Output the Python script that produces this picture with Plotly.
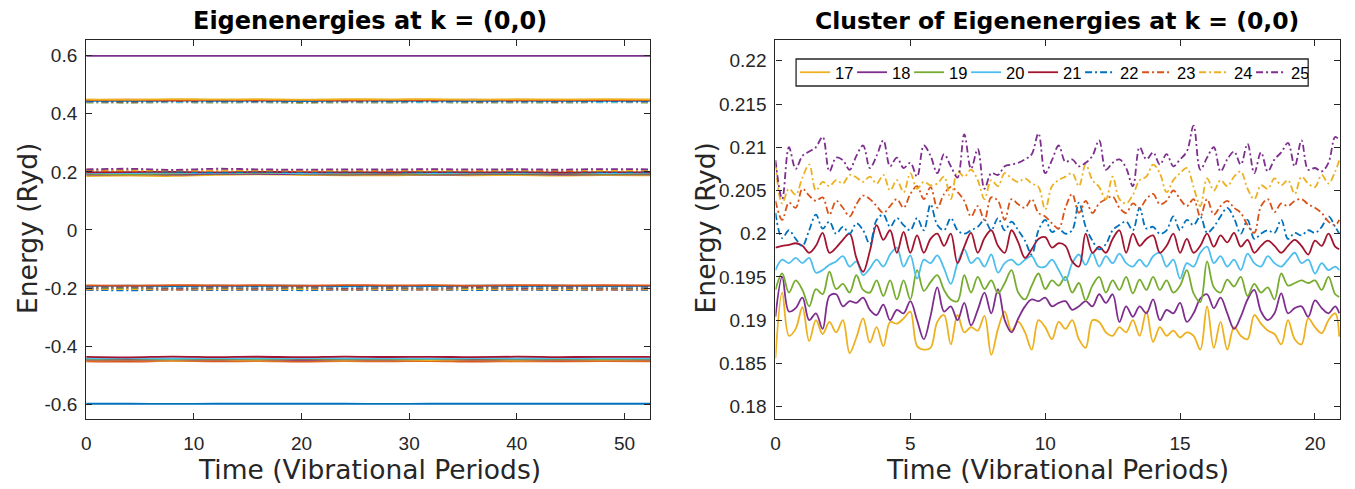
import plotly.graph_objects as go

# ---------------- colours / styles (MATLAB default order) ----------------
MATLAB_COLORS = ["#0072BD", "#D95319", "#EDB120", "#7E2F8E", "#77AC30", "#4DBEEE", "#A2142F"]

# ---------------- right panel: cluster of states 17..25 ----------------
CLUSTER_TIME = [k * 0.25 for k in range(84)] + [20.9]

STATE_17 = [0.1856, 0.1932, 0.1882, 0.1890, 0.1915, 0.1876, 0.1900, 0.1884,
            0.1898, 0.1886, 0.1900, 0.1862, 0.1880, 0.1902, 0.1874, 0.1892,
            0.1870, 0.1898, 0.1896, 0.1902, 0.1910, 0.1870, 0.1866, 0.1868,
            0.1898, 0.1906, 0.1872, 0.1906, 0.1886, 0.1892, 0.1888, 0.1905,
            0.1860, 0.1890, 0.1910, 0.1888, 0.1898, 0.1886, 0.1866, 0.1900,
            0.1892, 0.1878, 0.1898, 0.1890, 0.1900, 0.1878, 0.1868, 0.1900,
            0.1898, 0.1886, 0.1882, 0.1892, 0.1886, 0.1900, 0.1882, 0.1910,
            0.1875, 0.1892, 0.1882, 0.1888, 0.1880, 0.1886, 0.1882, 0.1866,
            0.1916, 0.1868, 0.1898, 0.1866, 0.1892, 0.1882, 0.1878, 0.1906,
            0.1896, 0.1888, 0.1884, 0.1872, 0.1900, 0.1878, 0.1872, 0.1902,
            0.1892, 0.1885, 0.1900, 0.1908, 0.1881]
STATE_18 = [0.1904, 0.1950, 0.1910, 0.1914, 0.1926, 0.1900, 0.1908, 0.1890,
            0.1928, 0.1930, 0.1916, 0.1922, 0.1920, 0.1926, 0.1912, 0.1906,
            0.1918, 0.1900, 0.1912, 0.1908, 0.1922, 0.1900, 0.1878, 0.1905,
            0.1938, 0.1910, 0.1916, 0.1900, 0.1920, 0.1894, 0.1912, 0.1932,
            0.1908, 0.1936, 0.1900, 0.1886, 0.1902, 0.1916, 0.1924, 0.1922,
            0.1926, 0.1916, 0.1920, 0.1922, 0.1912, 0.1916, 0.1922, 0.1916,
            0.1930, 0.1920, 0.1930, 0.1898, 0.1916, 0.1904, 0.1916, 0.1908,
            0.1924, 0.1900, 0.1912, 0.1908, 0.1920, 0.1898, 0.1908, 0.1925,
            0.1930, 0.1914, 0.1926, 0.1908, 0.1890, 0.1904, 0.1924, 0.1935,
            0.1910, 0.1900, 0.1908, 0.1931, 0.1908, 0.1914, 0.1916, 0.1904,
            0.1923, 0.1914, 0.1908, 0.1916, 0.1908]
STATE_19 = [0.1935, 0.1954, 0.1932, 0.1946, 0.1935, 0.1916, 0.1936, 0.1930,
            0.1956, 0.1936, 0.1942, 0.1932, 0.1952, 0.1935, 0.1932, 0.1946,
            0.1928, 0.1946, 0.1924, 0.1946, 0.1924, 0.1958, 0.1934, 0.1944,
            0.1952, 0.1935, 0.1924, 0.1922, 0.1952, 0.1932, 0.1950, 0.1936,
            0.1946, 0.1931, 0.1943, 0.1958, 0.1932, 0.1924, 0.1940, 0.1954,
            0.1936, 0.1946, 0.1940, 0.1950, 0.1932, 0.1943, 0.1923, 0.1940,
            0.1950, 0.1932, 0.1946, 0.1935, 0.1950, 0.1931, 0.1947, 0.1935,
            0.1950, 0.1935, 0.1946, 0.1932, 0.1940, 0.1958, 0.1931, 0.1921,
            0.1968, 0.1938, 0.1932, 0.1947, 0.1939, 0.1950, 0.1928, 0.1942,
            0.1932, 0.1938, 0.1924, 0.1954, 0.1940, 0.1943, 0.1946, 0.1943,
            0.1946, 0.1935, 0.1950, 0.1930, 0.1927]
STATE_20 = [0.1958, 0.1970, 0.1966, 0.1972, 0.1966, 0.1972, 0.1955, 0.1958,
            0.1964, 0.1968, 0.1974, 0.1962, 0.1968, 0.1952, 0.1960, 0.1970,
            0.1962, 0.1976, 0.1984, 0.1962, 0.1975, 0.1948, 0.1970, 0.1966,
            0.1975, 0.1960, 0.1942, 0.1966, 0.1982, 0.1966, 0.1972, 0.1962,
            0.1976, 0.1955, 0.1966, 0.1970, 0.1964, 0.1970, 0.1974, 0.1962,
            0.1962, 0.1970, 0.1958, 0.1946, 0.1966, 0.1976, 0.1964, 0.1978,
            0.1962, 0.1974, 0.1966, 0.1977, 0.1966, 0.1962, 0.1970, 0.1962,
            0.1974, 0.1978, 0.1962, 0.1970, 0.1948, 0.1966, 0.1962, 0.1978,
            0.1985, 0.1966, 0.1974, 0.1962, 0.1970, 0.1958, 0.1977, 0.1966,
            0.1962, 0.1974, 0.1966, 0.1962, 0.1970, 0.1978, 0.1966, 0.1970,
            0.1954, 0.1966, 0.1958, 0.1962, 0.1958]
STATE_21 = [0.1984, 0.1986, 0.1987, 0.1989, 0.1986, 0.1978, 0.1986, 0.2001,
            0.1978, 0.1984, 0.1993, 0.2000, 0.1972, 0.1956, 0.1980, 0.2010,
            0.1993, 0.2004, 0.1978, 0.2002, 0.1978, 0.1998, 0.1978, 0.1994,
            0.2000, 0.1986, 0.2000, 0.1966, 0.1985, 0.2001, 0.1978, 0.1995,
            0.2004, 0.1986, 0.1978, 0.2004, 0.1990, 0.1972, 0.1982, 0.1994,
            0.1996, 0.1984, 0.1989, 0.1986, 0.1968, 0.1962, 0.2000, 0.1978,
            0.1985, 0.1978, 0.1994, 0.2004, 0.1978, 0.2000, 0.1986, 0.1994,
            0.1998, 0.1978, 0.1986, 0.2000, 0.1978, 0.1994, 0.1978, 0.1986,
            0.2000, 0.1985, 0.1998, 0.1990, 0.2001, 0.1985, 0.1993, 0.1978,
            0.1986, 0.1992, 0.1986, 0.1978, 0.1986, 0.1993, 0.1986, 0.1976,
            0.1992, 0.1986, 0.2000, 0.1985, 0.1982]
STATE_22 = [0.2024, 0.1995, 0.2004, 0.1994, 0.1986, 0.2004, 0.2022, 0.2006,
            0.2014, 0.2000, 0.2008, 0.2000, 0.2012, 0.2004, 0.1988, 0.2016,
            0.2022, 0.2008, 0.2018, 0.2010, 0.2004, 0.2018, 0.2004, 0.2034,
            0.2010, 0.2004, 0.2018, 0.2004, 0.2000, 0.2004, 0.2008, 0.2016,
            0.2004, 0.2018, 0.2004, 0.2014, 0.2004, 0.1992, 0.1976, 0.2004,
            0.2016, 0.2002, 0.2006, 0.2000, 0.2004, 0.2036, 0.2008, 0.1992,
            0.1982, 0.1988, 0.2004, 0.2010, 0.2014, 0.2004, 0.2030, 0.2006,
            0.2008, 0.2000, 0.2004, 0.2020, 0.2004, 0.2016, 0.2010, 0.2020,
            0.2001, 0.2008, 0.2020, 0.2030, 0.2018, 0.2000, 0.2016, 0.1994,
            0.2000, 0.2004, 0.2001, 0.2016, 0.1994, 0.2001, 0.1998, 0.2004,
            0.2001, 0.2008, 0.2020, 0.2008, 0.2000]
STATE_23 = [0.2038, 0.2016, 0.2036, 0.2030, 0.2052, 0.2044, 0.2038, 0.2042,
            0.2022, 0.2038, 0.2030, 0.2020, 0.2034, 0.2044, 0.2040, 0.2032,
            0.2024, 0.2032, 0.2040, 0.2030, 0.2046, 0.2055, 0.2040, 0.2054,
            0.2030, 0.2046, 0.2054, 0.2048, 0.2038, 0.2020, 0.2032, 0.2016,
            0.2042, 0.2038, 0.2016, 0.2040, 0.2034, 0.2030, 0.2040, 0.2024,
            0.2020, 0.2012, 0.2006, 0.2030, 0.2046, 0.2024, 0.2038, 0.2024,
            0.2035, 0.2040, 0.2043, 0.2030, 0.2024, 0.2035, 0.2030, 0.2040,
            0.2046, 0.2034, 0.2038, 0.2050, 0.2040, 0.2032, 0.2040, 0.2020,
            0.2040, 0.2022, 0.2032, 0.2038, 0.2030, 0.2024, 0.2010, 0.2001,
            0.2032, 0.2040, 0.2025, 0.2035, 0.2032, 0.2038, 0.2040, 0.2034,
            0.2030, 0.2024, 0.2014, 0.2010, 0.2016]
STATE_24 = [0.2082, 0.2035, 0.2052, 0.2045, 0.2065, 0.2080, 0.2050, 0.2060,
            0.2055, 0.2062, 0.2058, 0.2068, 0.2065, 0.2060, 0.2066, 0.2058,
            0.2068, 0.2050, 0.2062, 0.2048, 0.2070, 0.2052, 0.2060, 0.2056,
            0.2058, 0.2066, 0.2040, 0.2072, 0.2066, 0.2074, 0.2062, 0.2040,
            0.2062, 0.2055, 0.2070, 0.2064, 0.2060, 0.2064, 0.2058, 0.2054,
            0.2028, 0.2055, 0.2062, 0.2066, 0.2070, 0.2055, 0.2080, 0.2062,
            0.2054, 0.2040, 0.2066, 0.2040, 0.2035, 0.2045, 0.2062, 0.2066,
            0.2080, 0.2070, 0.2048, 0.2062, 0.2070, 0.2076, 0.2054, 0.2032,
            0.2064, 0.2050, 0.2062, 0.2055, 0.2066, 0.2072, 0.2052, 0.2040,
            0.2056, 0.2052, 0.2064, 0.2056, 0.2062, 0.2046, 0.2066, 0.2058,
            0.2054, 0.2068, 0.2058, 0.2072, 0.2085]
STATE_25 = [0.2085, 0.2040, 0.2100, 0.2075, 0.2090, 0.2095, 0.2100, 0.2112,
            0.2072, 0.2088, 0.2085, 0.2074, 0.2090, 0.2102, 0.2076, 0.2090,
            0.2108, 0.2078, 0.2088, 0.2076, 0.2082, 0.2066, 0.2102, 0.2090,
            0.2070, 0.2092, 0.2078, 0.2065, 0.2115, 0.2075, 0.2098, 0.2052,
            0.2070, 0.2068, 0.2078, 0.2080, 0.2082, 0.2086, 0.2092, 0.2116,
            0.2070, 0.2085, 0.2102, 0.2083, 0.2086, 0.2078, 0.2082, 0.2090,
            0.2108, 0.2074, 0.2082, 0.2086, 0.2076, 0.2055, 0.2100, 0.2086,
            0.2094, 0.2080, 0.2092, 0.2078, 0.2086, 0.2095, 0.2125, 0.2074,
            0.2088, 0.2100, 0.2072, 0.2086, 0.2095, 0.2080, 0.2104, 0.2070,
            0.2094, 0.2072, 0.2086, 0.2094, 0.2105, 0.2078, 0.2108, 0.2074,
            0.2076, 0.2072, 0.2082, 0.2112, 0.2108]

CLUSTER_LABELS = ["17", "18", "19", "20", "21", "22", "23", "24", "25"]
CLUSTER_SERIES = [STATE_17, STATE_18, STATE_19, STATE_20, STATE_21,
                  STATE_22, STATE_23, STATE_24, STATE_25]
CLUSTER_INDEX = [17, 18, 19, 20, 21, 22, 23, 24, 25]

# ---------------- left panel: all 32 eigenenergies ----------------
FULL_TIME = [0, 4, 8, 12, 16, 20, 24, 28, 32, 36, 40, 44, 48, 52.4]

LEVELS = {
    1:  [-0.5985, -0.5985, -0.5986, -0.5985, -0.5984, -0.5985, -0.5985, -0.5986, -0.5985, -0.5985, -0.5984, -0.5985, -0.5985, -0.5985],
    2:  [-0.4520, -0.4535, -0.4510, -0.4528, -0.4515, -0.4532, -0.4518, -0.4525, -0.4512, -0.4534, -0.4520, -0.4527, -0.4515, -0.4522],
    3:  [-0.4490, -0.4478, -0.4500, -0.4485, -0.4495, -0.4480, -0.4498, -0.4487, -0.4492, -0.4479, -0.4496, -0.4484, -0.4493, -0.4488],
    4:  [-0.4460, -0.4468, -0.4455, -0.4465, -0.4452, -0.4470, -0.4458, -0.4462, -0.4450, -0.4466, -0.4457, -0.4463, -0.4454, -0.4461],
    5:  [-0.4440, -0.4432, -0.4446, -0.4436, -0.4444, -0.4430, -0.4442, -0.4438, -0.4447, -0.4433, -0.4441, -0.4435, -0.4445, -0.4439],
    6:  [-0.4420, -0.4412, -0.4426, -0.4416, -0.4424, -0.4410, -0.4422, -0.4418, -0.4427, -0.4413, -0.4421, -0.4415, -0.4425, -0.4419],
    7:  [-0.4370, -0.4385, -0.4362, -0.4378, -0.4366, -0.4382, -0.4360, -0.4375, -0.4368, -0.4380, -0.4364, -0.4376, -0.4369, -0.4372],
    8:  [-0.2065, -0.2078, -0.2055, -0.2070, -0.2060, -0.2075, -0.2058, -0.2068, -0.2052, -0.2072, -0.2062, -0.2069, -0.2057, -0.2066],
    9:  [-0.2045, -0.2036, -0.2052, -0.2040, -0.2048, -0.2034, -0.2050, -0.2042, -0.2055, -0.2038, -0.2047, -0.2041, -0.2053, -0.2044],
    10: [-0.2025, -0.2035, -0.2018, -0.2030, -0.2020, -0.2033, -0.2016, -0.2028, -0.2022, -0.2034, -0.2019, -0.2027, -0.2023, -0.2026],
    11: [-0.2005, -0.1996, -0.2012, -0.2000, -0.2008, -0.1994, -0.2010, -0.2002, -0.2014, -0.1998, -0.2006, -0.2001, -0.2011, -0.2004],
    12: [-0.1985, -0.1994, -0.1978, -0.1990, -0.1980, -0.1993, -0.1976, -0.1988, -0.1982, -0.1995, -0.1979, -0.1987, -0.1983, -0.1986],
    13: [-0.1965, -0.1956, -0.1972, -0.1960, -0.1968, -0.1954, -0.1970, -0.1962, -0.1974, -0.1958, -0.1966, -0.1961, -0.1971, -0.1964],
    14: [-0.1945, -0.1954, -0.1938, -0.1950, -0.1940, -0.1953, -0.1936, -0.1948, -0.1942, -0.1955, -0.1939, -0.1947, -0.1943, -0.1946],
    15: [-0.1925, -0.1916, -0.1932, -0.1920, -0.1928, -0.1914, -0.1930, -0.1922, -0.1934, -0.1918, -0.1926, -0.1921, -0.1931, -0.1924],
    16: [-0.1905, -0.1914, -0.1898, -0.1910, -0.1900, -0.1913, -0.1896, -0.1908, -0.1902, -0.1915, -0.1899, -0.1907, -0.1903, -0.1906],
    17: [0.1856, 0.1870, 0.1860, 0.1898, 0.1916, 0.1892, 0.1885, 0.1878, 0.1895, 0.1882, 0.1890, 0.1876, 0.1893, 0.1884],
    18: [0.1904, 0.1918, 0.1908, 0.1930, 0.1930, 0.1923, 0.1910, 0.1920, 0.1905, 0.1916, 0.1924, 0.1908, 0.1918, 0.1912],
    19: [0.1935, 0.1928, 0.1946, 0.1950, 0.1968, 0.1946, 0.1935, 0.1942, 0.1930, 0.1945, 0.1938, 0.1948, 0.1933, 0.1940],
    20: [0.1958, 0.1962, 0.1976, 0.1962, 0.1985, 0.1954, 0.1966, 0.1972, 0.1960, 0.1970, 0.1964, 0.1975, 0.1962, 0.1968],
    21: [0.1984, 0.1993, 0.2004, 0.1985, 0.2000, 0.1992, 0.1986, 0.1980, 0.1995, 0.1984, 0.1990, 0.1978, 0.1993, 0.1986],
    22: [0.2024, 0.2022, 0.2004, 0.1982, 0.2001, 0.2001, 0.2008, 0.2012, 0.2000, 0.2010, 0.2004, 0.2016, 0.2002, 0.2008],
    23: [0.2038, 0.2024, 0.2042, 0.2035, 0.2040, 0.2030, 0.2034, 0.2028, 0.2040, 0.2030, 0.2036, 0.2025, 0.2038, 0.2032],
    24: [0.2082, 0.2068, 0.2062, 0.2054, 0.2064, 0.2054, 0.2060, 0.2066, 0.2055, 0.2062, 0.2058, 0.2068, 0.2056, 0.2062],
    25: [0.2085, 0.2108, 0.2070, 0.2108, 0.2088, 0.2076, 0.2090, 0.2082, 0.2095, 0.2085, 0.2092, 0.2080, 0.2098, 0.2088],
    26: [0.4390, 0.4382, 0.4396, 0.4386, 0.4394, 0.4380, 0.4392, 0.4388, 0.4397, 0.4383, 0.4391, 0.4385, 0.4395, 0.4389],
    27: [0.4410, 0.4418, 0.4404, 0.4414, 0.4406, 0.4420, 0.4408, 0.4412, 0.4402, 0.4416, 0.4407, 0.4413, 0.4405, 0.4411],
    28: [0.4430, 0.4422, 0.4436, 0.4426, 0.4434, 0.4420, 0.4432, 0.4428, 0.4437, 0.4423, 0.4431, 0.4425, 0.4435, 0.4429],
    29: [0.4450, 0.4444, 0.4456, 0.4447, 0.4453, 0.4442, 0.4455, 0.4448, 0.4452, 0.4445, 0.4454, 0.4446, 0.4451, 0.4449],
    30: [0.4475, 0.4485, 0.4468, 0.4480, 0.4470, 0.4483, 0.4466, 0.4478, 0.4472, 0.4486, 0.4469, 0.4477, 0.4473, 0.4476],
    31: [0.4500, 0.4490, 0.4508, 0.4495, 0.4505, 0.4488, 0.4506, 0.4497, 0.4510, 0.4492, 0.4502, 0.4496, 0.4507, 0.4499],
    32: [0.5995, 0.5995, 0.5996, 0.5995, 0.5994, 0.5995, 0.5995, 0.5996, 0.5995, 0.5995, 0.5994, 0.5995, 0.5995, 0.5995],
}

LEFT_YTICKS = [-0.6, -0.4, -0.2, 0, 0.2, 0.4, 0.6]
LEFT_YTEXT = ["-0.6", "-0.4", "-0.2", "0", "0.2", "0.4", "0.6"]
LEFT_XTICKS = [0, 10, 20, 30, 40, 50]
RIGHT_YTICKS = [0.18, 0.185, 0.19, 0.195, 0.2, 0.205, 0.21, 0.215, 0.22]
RIGHT_YTEXT = ["0.18", "0.185", "0.19", "0.195", "0.2", "0.205", "0.21", "0.215", "0.22"]
RIGHT_XTICKS = [0, 5, 10, 15, 20]

for s in CLUSTER_SERIES:
    assert len(s) == len(CLUSTER_TIME), len(s)
for v in LEVELS.values():
    assert len(v) == len(FULL_TIME)

DASHDOT = "7px,3px,2px,3px"


def style_for(index):
    color = MATLAB_COLORS[(index - 1) % 7]
    dashdot = ((index - 1) // 7) % 2 == 1
    return color, (DASHDOT if dashdot else "solid")


fig = go.Figure()

for idx in sorted(LEVELS):
    color, dash = style_for(idx)
    fig.add_trace(go.Scatter(
        x=FULL_TIME, y=LEVELS[idx], mode="lines", xaxis="x", yaxis="y",
        line=dict(color=color, width=1.8, dash=dash, shape="spline"),
        showlegend=False, hoverinfo="skip"))

for label, series, idx in zip(CLUSTER_LABELS, CLUSTER_SERIES, CLUSTER_INDEX):
    color, dash = style_for(idx)
    fig.add_trace(go.Scatter(
        x=CLUSTER_TIME, y=series, mode="lines", name=label, xaxis="x2", yaxis="y2",
        line=dict(color=color, width=1.8, dash=dash, shape="spline", smoothing=1.0)))

W, H = 1355, 489
AX = "#262626"
TICKFONT = dict(family="Liberation Sans, Arial, sans-serif", size=19, color=AX)

common = dict(showgrid=False, zeroline=False, showline=True, mirror="allticks",
              linecolor=AX, linewidth=1.3, ticks="inside", ticklen=6, tickwidth=1.3,
              tickcolor=AX, tickfont=TICKFONT)

top_px, bot_px = 39.5, 419.3
ydom = [1 - bot_px / H, 1 - top_px / H]

# legend frame (px): x 794..1308, y 59..86
LEG_L, LEG_R, LEG_T, LEG_B = 794, 1308, 59, 86

fig.update_layout(
    width=W, height=H, autosize=False,
    margin=dict(l=0, r=0, t=0, b=0),
    paper_bgcolor="white", plot_bgcolor="white",
    xaxis=dict(domain=[81.5 / W, 647.7 / W], range=[0, 52.4], tickvals=LEFT_XTICKS,
               ticklabelstandoff=7, **common),
    yaxis=dict(domain=ydom, range=[-0.652, 0.656], tickvals=LEFT_YTICKS, ticktext=LEFT_YTEXT,
               ticklabelstandoff=4, **common),
    xaxis2=dict(domain=[773.3 / W, 1340 / W], range=[0, 20.93], tickvals=RIGHT_XTICKS,
                anchor="y2", ticklabelstandoff=7, **common),
    yaxis2=dict(domain=ydom, range=[0.17854, 0.22246], tickvals=RIGHT_YTICKS, ticktext=RIGHT_YTEXT,
                anchor="x2", ticklabelstandoff=4, **common),
    legend=dict(orientation="h", x=(LEG_L - 1) / W, y=1 - ((LEG_T + LEG_B) / 2) / H,
                xanchor="left", yanchor="middle",
                bgcolor="rgba(0,0,0,0)", borderwidth=0,
                font=dict(family="Liberation Sans, Arial, sans-serif", size=16.5, color="black"),
                itemwidth=30, entrywidth=12, entrywidthmode="pixels", tracegroupgap=0),
    showlegend=True,
    shapes=[dict(type="rect", xref="paper", yref="paper",
                 x0=LEG_L / W, x1=LEG_R / W, y0=1 - LEG_B / H, y1=1 - LEG_T / H,
                 line=dict(color=AX, width=1.3), fillcolor="white", layer="above")],
)

TITLE_FONT = dict(family="DejaVu Sans, Liberation Sans, sans-serif", size=24, color="black")
LABEL_FONT = dict(family="DejaVu Sans, Liberation Sans, sans-serif", size=26.5, color=AX)

annotations = [
    dict(text="<b>Eigenenergies at k = (0,0)</b>", x=366 / W, y=1 - 21 / H, font=TITLE_FONT),
    dict(text="<b>Cluster of Eigenenergies at k = (0,0)</b>", x=1056 / W, y=1 - 21 / H,
         font=dict(TITLE_FONT, size=23.5)),
    dict(text="Time (Vibrational Periods)", x=366 / W, y=1 - 469 / H, font=LABEL_FONT),
    dict(text="Time (Vibrational Periods)", x=1056.7 / W, y=1 - 469 / H, font=LABEL_FONT),
    dict(text="Energy (Ryd)", x=22 / W, y=1 - 228 / H, font=LABEL_FONT, textangle=-90),
    dict(text="Energy (Ryd)", x=703 / W, y=1 - 228 / H, font=LABEL_FONT, textangle=-90),
]
for a in annotations:
    a.update(xref="paper", yref="paper", xanchor="center", yanchor="middle", showarrow=False)
fig.update_layout(annotations=annotations)

fig.write_html("out.html",
               config={"displayModeBar": False, "responsive": False},
               post_script="document.body.style.margin='0px';")
